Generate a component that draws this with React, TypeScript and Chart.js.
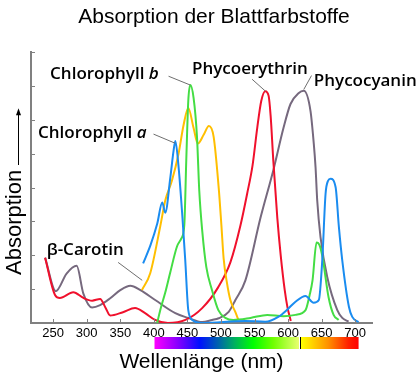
import React, { useEffect, useRef } from 'react';
import { Chart, registerables } from 'chart.js';

Chart.register(...registerables);

const chartTitle = 'Absorption der Blattfarbstoffe';
const xTitle = 'Wellenlänge (nm)';
const yTitle = 'Absorption';

const xMin = 217;
const xMax = 725;
const yMin = 0;
const yMax = 8;
const xTicks = [250, 300, 350, 400, 450, 500, 550, 600, 650, 700];
const yTicks = [1, 2, 3, 4, 5, 6, 7, 8];

// Chlorophyll a (blue)
const chlANm = [384, 395, 405, 412.5, 417, 424.5, 429.4, 432, 436.4, 442.4, 446.8, 451.3, 457.3, 472, 536, 566, 586, 599, 611, 626, 638, 645.8, 650.9, 655.8, 659.5, 663.3, 670.8, 675.7, 680.7, 690.6, 695.6, 705];
const chlAAbs = [1.76, 2.3, 2.93, 3.56, 3.26, 4.29, 5.09, 5.38, 4.71, 3.18, 1.85, 0.38, 0.09, 0.0, 0.06, 0.04, 0.19, 0.4, 0.63, 0.8, 0.6, 0.68, 1.85, 3.81, 4.2, 4.26, 4.01, 2.83, 1.85, 0.48, 0.18, 0.03];

// Chlorophyll b (green)
const chlBNm = [405, 409.5, 417, 424.5, 434.5, 441, 445.4, 448.3, 451.3, 454.3, 459.2, 464.3, 467.7, 472.2, 478.2, 486.7, 496.1, 506.5, 518.5, 544, 569, 593, 611, 626, 632, 636.4, 642.4, 646.8, 651.3, 660.3, 667.8, 675.2];
const chlBAbs = [0.0, 0.38, 0.9, 1.5, 2.26, 2.5, 2.9, 4.8, 6.56, 7.03, 6.65, 5.49, 3.9, 2.7, 1.65, 0.97, 0.38, 0.15, 0.09, 0.15, 0.24, 0.2, 0.24, 0.38, 0.82, 1.26, 2.38, 2.3, 1.94, 0.76, 0.24, 0.09];

// beta-Carotin (yellow)
const caroNm = [382.2, 394.6, 409.5, 417, 427, 436.8, 444.3, 451.3, 459.2, 465.5, 474.2, 482, 489.1, 496.6, 500.6, 504, 508.8, 514, 521.5, 526];
const caroAbs = [0.97, 1.47, 2.85, 3.62, 4.21, 5.0, 5.85, 6.35, 5.76, 5.3, 5.56, 5.82, 5.5, 4.0, 2.9, 1.9, 1.2, 0.68, 0.32, 0.09];

// Phycoerythrin (red)
const phycoeNm = [238, 253, 260, 280, 295, 308, 320, 328, 335, 354, 372, 387, 402, 421, 447, 472, 496, 514, 529, 539, 547, 554, 560, 566, 571, 574, 578, 584, 589, 595, 599, 604];
const phycoeAbs = [1.93, 0.82, 0.74, 0.91, 0.74, 0.66, 0.71, 0.45, 0.22, 0.32, 0.44, 0.29, 0.09, 0.0, 0.09, 0.44, 1.06, 1.79, 2.88, 3.82, 4.65, 5.76, 6.56, 6.85, 6.71, 6.12, 4.79, 3.09, 2.0, 0.97, 0.47, 0.06];

// Phycocyanin (grey)
const phycocNm = [238, 254, 270, 285, 295, 308, 320, 335, 350, 365, 380, 402, 432, 451, 472, 486.7, 496.6, 511.5, 521.5, 536.4, 558.8, 578.2, 593.1, 603.6, 615.5, 623.4, 633.4, 638.3, 640.9, 643.4, 648.3, 658.3, 673.3, 680.7, 690.1];
const phycocAbs = [1.93, 0.94, 1.46, 1.69, 0.87, 0.46, 0.53, 0.73, 0.97, 1.1, 0.97, 0.68, 0.29, 0.15, 0.03, 0.09, 0.14, 0.33, 0.68, 1.26, 3.1, 4.53, 5.76, 6.47, 6.79, 6.86, 6.26, 5.29, 4.6, 3.62, 2.54, 1.36, 0.38, 0.15, 0.04];

// curve labels
const labelTexts = ['Chlorophyll ', 'Chlorophyll ', 'Phycoerythrin', 'Phycocyanin', 'β-Carotin'];
const labelItalic = ['b', 'a', '', '', ''];
const labelNm = [245.4, 227.4, 456.8, 638.3, 240.4];
const labelAbs = [7.2, 5.48, 7.37, 7.0, 2.0];
const leaderFromNm = [421.9, 399.5, 546.4, 634.9, 346.8];
const leaderFromAbs = [7.29, 5.58, 7.2, 7.31, 1.79];
const leaderToNm = [454.3, 431.9, 566.2, 623.4, 382.7];
const leaderToAbs = [7.03, 5.31, 6.85, 6.9, 1.26];

// spectrum bar
const spectrumNm = [401, 435, 468, 495, 520, 548, 578, 616, 620, 660, 690, 705];
const spectrumColors = ['#ff00ff', '#8a00ff', '#0010ff', '#0060b0', '#00b060', '#00ff00', '#70ff00', '#e8ff70', '#ffff00', '#ff9000', '#ff2000', '#ff0000'];
const spectrumSplitNm = 618;

const SANS = "'Liberation Sans', Arial, sans-serif";
const LABEL_FONT = "'Open Sans', 'DejaVu Sans', sans-serif";

const toPts = (xs: number[], ys: number[]) => xs.map((x, i) => ({ x, y: ys[i] }));

const decorPlugin = {
  id: 'decor',
  afterDraw(chart: any) {
    const { ctx, chartArea } = chart;
    const x = chart.scales.x;
    const y = chart.scales.y;
    ctx.save();

    // inward tick marks
    ctx.strokeStyle = '#808080';
    ctx.lineWidth = 1;
    yTicks.forEach((v) => {
      const py = Math.round(y.getPixelForValue(v)) + 0.5;
      ctx.beginPath();
      ctx.moveTo(chartArea.left, py);
      ctx.lineTo(chartArea.left + 4, py);
      ctx.stroke();
    });
    xTicks.forEach((v) => {
      const px = Math.round(x.getPixelForValue(v)) + 0.5;
      ctx.beginPath();
      ctx.moveTo(px, chartArea.bottom);
      ctx.lineTo(px, chartArea.bottom - 4);
      ctx.stroke();
    });

    // leader lines
    ctx.strokeStyle = '#6e6e6e';
    ctx.lineWidth = 1;
    for (let i = 0; i < labelTexts.length; i++) {
      ctx.beginPath();
      ctx.moveTo(x.getPixelForValue(leaderFromNm[i]), y.getPixelForValue(leaderFromAbs[i]));
      ctx.lineTo(x.getPixelForValue(leaderToNm[i]), y.getPixelForValue(leaderToAbs[i]));
      ctx.stroke();
    }

    // labels
    ctx.fillStyle = '#000';
    ctx.textBaseline = 'alphabetic';
    ctx.textAlign = 'left';
    for (let i = 0; i < labelTexts.length; i++) {
      const px = x.getPixelForValue(labelNm[i]);
      const py = y.getPixelForValue(labelAbs[i]);
      ctx.font = `600 17px ${LABEL_FONT}`;
      ctx.fillText(labelTexts[i], px, py);
      if (labelItalic[i]) {
        const w = ctx.measureText(labelTexts[i]).width;
        ctx.font = `italic 600 17px ${LABEL_FONT}`;
        ctx.fillText(labelItalic[i], px + w, py);
      }
    }

    // spectrum bar
    const x0 = x.getPixelForValue(spectrumNm[0]);
    const x1 = x.getPixelForValue(spectrumNm[spectrumNm.length - 1]);
    const top = chartArea.bottom + 14;
    const h = 12;
    const grad = ctx.createLinearGradient(x0, 0, x1, 0);
    spectrumNm.forEach((nm, i) => {
      grad.addColorStop((nm - spectrumNm[0]) / (spectrumNm[spectrumNm.length - 1] - spectrumNm[0]), spectrumColors[i]);
    });
    ctx.fillStyle = grad;
    ctx.fillRect(x0, top, x1 - x0, h);
    const sx = Math.round(x.getPixelForValue(spectrumSplitNm));
    ctx.fillStyle = '#ffffff';
    ctx.fillRect(sx - 1, top, 1, h);
    ctx.fillStyle = '#000000';
    ctx.fillRect(sx, top, 1, h);

    // y axis label with arrow
    ctx.fillStyle = '#000';
    ctx.font = `22px ${SANS}`;
    ctx.translate(chartArea.left - 10, chartArea.bottom - 48);
    ctx.rotate(-Math.PI / 2);
    ctx.fillText(yTitle, 0, 0);
    ctx.setTransform(1, 0, 0, 1, 0, 0);
    const ax = chartArea.left - 12.5;
    const ay0 = chartArea.bottom - 158;
    const ay1 = chartArea.top + 56;
    ctx.strokeStyle = '#000';
    ctx.lineWidth = 1;
    ctx.beginPath();
    ctx.moveTo(ax, ay0);
    ctx.lineTo(ax, ay1 + 4);
    ctx.stroke();
    ctx.beginPath();
    ctx.moveTo(ax, ay1);
    ctx.lineTo(ax - 2.5, ay1 + 7);
    ctx.lineTo(ax + 2.5, ay1 + 7);
    ctx.closePath();
    ctx.fillStyle = '#000';
    ctx.fill();

    ctx.restore();
  },
};

export default function App() {
  const canvasRef = useRef<HTMLCanvasElement | null>(null);

  useEffect(() => {
    const canvas = canvasRef.current;
    if (!canvas) return;
    const chart = new Chart(canvas, {
      type: 'line',
      data: {
        datasets: [
          { label: 'Chlorophyll a', data: toPts(chlANm, chlAAbs), borderColor: '#1a8cf0' },
          { label: 'Chlorophyll b', data: toPts(chlBNm, chlBAbs), borderColor: '#44dd44' },
          { label: 'β-Carotin', data: toPts(caroNm, caroAbs), borderColor: '#ffbf00' },
          { label: 'Phycoerythrin', data: toPts(phycoeNm, phycoeAbs), borderColor: '#f0102c' },
          { label: 'Phycocyanin', data: toPts(phycocNm, phycocAbs), borderColor: '#76697e' },
        ],
      },
      options: {
        responsive: false,
        animation: false,
        devicePixelRatio: 1,
        layout: { padding: { left: 10, right: 0, top: 0, bottom: 0 } },
        elements: {
          point: { radius: 0, hoverRadius: 0 },
          line: { borderWidth: 2, cubicInterpolationMode: 'monotone', fill: false },
        },
        plugins: {
          legend: { display: false },
          tooltip: { enabled: false },
          title: {
            display: true,
            text: chartTitle,
            color: '#000',
            font: { family: SANS, size: 21, weight: 'normal' },
            padding: { top: 5, bottom: 22 },
          },
        },
        scales: {
          x: {
            type: 'linear',
            min: xMin,
            max: xMax,
            afterBuildTicks: (s: any) => {
              s.ticks = xTicks.map((v) => ({ value: v }));
            },
            afterFit: (s: any) => {
              s.height = 63;
            },
            grid: { display: false, drawTicks: false },
            border: { display: true, color: '#808080', width: 2 },
            ticks: {
              color: '#000',
              font: { family: SANS, size: 13 },
              padding: 3,
              autoSkip: false,
              maxRotation: 0,
            },
            title: {
              display: true,
              text: xTitle,
              color: '#000',
              font: { family: SANS, size: 21 },
              padding: { top: 0, bottom: 11 },
            },
          },
          y: {
            type: 'linear',
            min: yMin,
            max: yMax,
            afterFit: (s: any) => {
              s.width = 21;
            },
            grid: { display: false, drawTicks: false },
            border: { display: true, color: '#808080', width: 2 },
            ticks: { display: false },
          },
          yRight: {
            type: 'linear',
            position: 'right',
            min: yMin,
            max: yMax,
            afterFit: (s: any) => {
              s.width = 46;
            },
            grid: { display: false, drawTicks: false },
            border: { display: false },
            ticks: { display: false },
          },
        },
      },
      plugins: [decorPlugin],
    });
    return () => chart.destroy();
  }, []);

  return (
    <div style={{ position: 'fixed', left: 0, top: 0, width: 418, height: 386, background: '#fff' }}>
      <canvas ref={canvasRef} width={418} height={386} style={{ width: 418, height: 386, display: 'block' }} />
    </div>
  );
}
